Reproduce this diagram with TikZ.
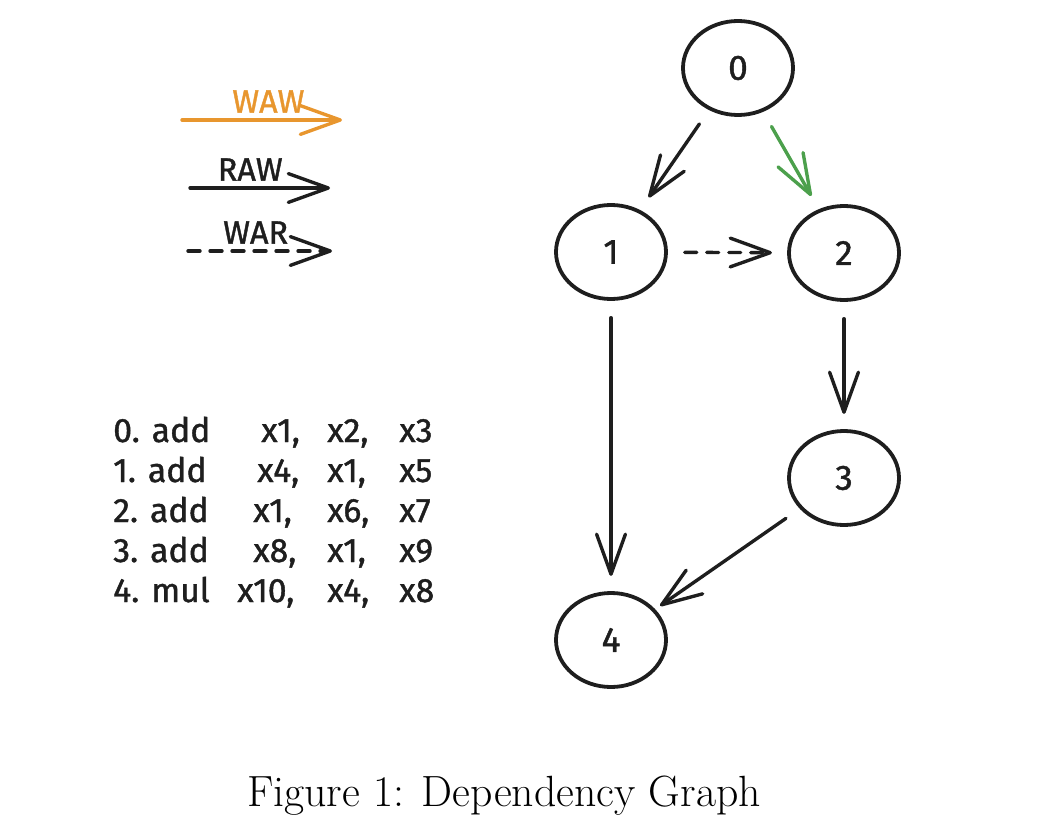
\documentclass[tikz,border=0pt]{standalone}
\usepackage{fontspec}
\usepackage{tikz}
\usetikzlibrary{arrows.meta, shapes.geometric, positioning}
\newfontfamily\sketchfont{Fira Sans}[FakeBold=1.2]
\definecolor{wawcolor}{HTML}{E8962E}
\definecolor{depgreen}{HTML}{4CA04C}
\definecolor{inkcolor}{HTML}{1E1E1E}

\begin{document}
\begin{tikzpicture}[x=0.025cm, y=-0.025cm,
    barb/.style={-{Straight Barb[round, length=1cm, width=0.72cm]}, line width=2.4pt, line cap=round, draw=inkcolor},
    opnode/.style={draw=inkcolor, ellipse, line width=2.7pt, inner sep=0pt, minimum width=2.75cm, minimum height=2.35cm, font=\sketchfont\fontsize{25}{30}\selectfont, text=inkcolor},
    dep/.style={barb, shorten <=0.42cm, shorten >=0.38cm},
    war/.style={dep, dash pattern=on 0.3cm off 0.25cm},
    legendlabel/.style={font=\sketchfont\fontsize{23}{28}\selectfont, above, inner sep=4pt}]
    \useasboundingbox (0,0) rectangle (1052,834);

    % Legend
    \coordinate (waw-from) at (182,120);
    \coordinate (waw-to) at (342,120);
    \draw[barb, draw=wawcolor] (waw-from) -- (waw-to) node[legendlabel, pos=0.54, text=wawcolor] (waw-label) {WAW};
    \coordinate (raw-from) at (190,188);
    \coordinate (raw-to) at (330,188);
    \draw[barb] (raw-from) -- (raw-to) node[legendlabel, pos=0.43, text=inkcolor] (raw-label) {RAW};
    \coordinate (war-from) at (188,251);
    \coordinate (war-to) at (332,251);
    \draw[barb, dash pattern=on 0.3cm off 0.25cm] (war-from) -- (war-to) node[legendlabel, pos=0.47, text=inkcolor] (war-label) {WAR};

    % Instructions
    \node[anchor=base west, inner sep=0pt, font=\sketchfont\fontsize{24}{28.45}\selectfont, text=inkcolor] (program) at (113,442) {%
      \begin{tabular}[t]{@{}p{3.5cm}@{}p{1.85cm}@{}p{1.8cm}@{}l@{}}
        0. add & \hspace*{0.2cm}x1, & x2, & x3\\
        1. add & \hspace*{0.1cm}x4, & x1, & x5\\
        2. add & x1, & x6, & x7\\
        3. add & x8, & x1, & x9\\
        4. mul & \hspace*{-0.4cm}x10, & x4, & x8
      \end{tabular}};

    % Graph nodes
    \node[opnode] (n0) at (738,68) {0};
    \node[opnode] (n1) at (611,252) {1};
    \node[opnode] (n2) at (844,253) {2};
    \node[opnode] (n3) at (844,478) {3};
    \node[opnode] (n4) at (611,640) {4};

    % Dependencies
    \draw[dep] (n0) -- (n1);
    \draw[dep, draw=depgreen] (n0) -- (n2);
    \draw[war] (n1) -- (n2);
    \draw[dep] (n1) -- (n4);
    \draw[dep] (n2) -- (n3);
    \draw[dep, shorten >=0.15cm] (n3) -- (n4);

    % Caption
    \node[font=\fontsize{31.1}{36}\selectfont, anchor=base] (caption) at (504,806) {Figure 1: Dependency Graph};
\end{tikzpicture}
\end{document}
